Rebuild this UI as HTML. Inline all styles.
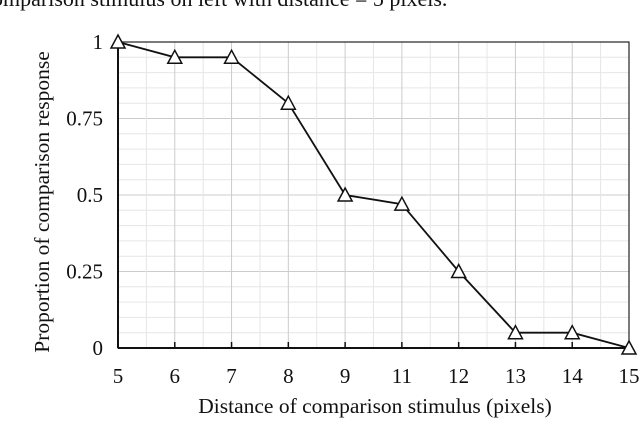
<!DOCTYPE html>
<html><head><meta charset="utf-8"><style>
body{margin:0;background:#fff;width:640px;height:419px;overflow:hidden}
svg text{font-family:"Liberation Serif",serif;fill:#111}
</style></head><body>
<svg id="c" width="640" height="419">
<text x="-8" y="6" font-size="22">omparison stimulus on left with distance = 5 pixels.</text>
<g id="grid"></g><g id="axes"></g><g id="marks"></g>
<text x="375" y="413" font-size="21.5" text-anchor="middle">Distance of comparison stimulus (pixels)</text>
<text transform="translate(49,202) rotate(-90)" font-size="21.5" text-anchor="middle">Proportion of comparison response</text>
</svg>
<script>
const categories=["5","6","7","8","9","11","12","13","14","15"];
const values=[1,0.95,0.95,0.8,0.5,0.47,0.25,0.05,0.05,0];
const yTicks=[0,0.25,0.5,0.75,1];
const yTickLabels=["0","0.25","0.5","0.75","1"];
const L=118,R=629,T=42,B=348;
const NS="http://www.w3.org/2000/svg";
const xs=i=>L+i*(R-L)/(categories.length-1);
const ys=v=>B-v*(B-T);
function mk(p,t,a){const e=document.createElementNS(NS,t);for(const k in a)e.setAttribute(k,a[k]);document.getElementById(p).appendChild(e);return e;}
for(let k=1;k<20;k++){const l=mk('grid','line',{x1:L,x2:R,y1:ys(k*0.05),y2:ys(k*0.05),stroke:k%5==0?'#ccc':'#e6e6e6','stroke-width':1});
}
for(let k=1;k<(categories.length-1)*2;k++){const x=L+k*(R-L)/((categories.length-1)*2);const l=mk('grid','line',{x1:x,x2:x,y1:T,y2:B,stroke:k%2==0?'#ccc':'#e6e6e6','stroke-width':1});
}
const fr=mk('axes','rect',{x:L,y:T,width:R-L,height:B-T,fill:'none',stroke:'#222','stroke-width':1.2});

const xa=mk('axes','line',{x1:L,x2:R,y1:B,y2:B,stroke:'#111','stroke-width':2});

const ya=mk('axes','line',{x1:L,x2:L,y1:T,y2:B,stroke:'#111','stroke-width':2});

categories.forEach((c,i)=>{const tk=mk('axes','line',{x1:xs(i),x2:xs(i),y1:B,y2:B-6,stroke:'#111','stroke-width':1.5});

const t=mk('axes','text',{x:xs(i),y:383,'font-size':21,'text-anchor':'middle'});t.textContent=c;
});
yTicks.forEach((v,i)=>{const t=mk('axes','text',{x:103,y:ys(v)+7,'font-size':21,'text-anchor':'end'});t.textContent=yTickLabels[i];
});
const ln=mk('marks','polyline',{points:values.map((v,i)=>xs(i)+','+ys(v)).join(' '),fill:'none',stroke:'#111','stroke-width':1.8});

values.forEach((v,i)=>{const x=xs(i),y=ys(v);const p=mk('marks','polygon',{points:`${x},${y-7} ${x-7},${y+6} ${x+7},${y+6}`,fill:'#fff',stroke:'#111','stroke-width':1.5});
});
</script>
</body></html>
